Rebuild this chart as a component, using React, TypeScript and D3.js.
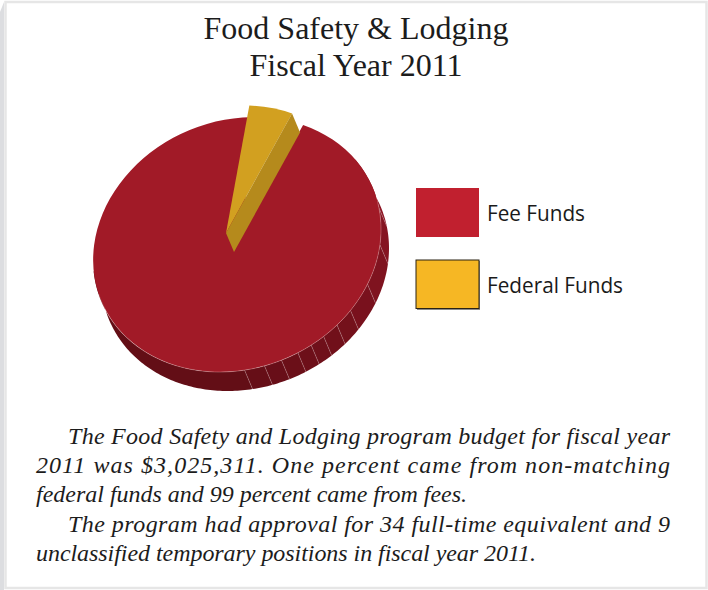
import React from "react";
import * as d3 from "d3";

const titleLines = ["Food Safety & Lodging", "Fiscal Year 2011"];
const categories = ["Fee Funds", "Federal Funds"];
const sliceValues = [95, 5];
const sliceColors = ["#a11a27", "#d2a020"];
const wallColors = ["#a11a27", "#b58a1c"];
const legendColors = ["#c1202f", "#f6b724"];
const legendTextW = [98, 136];
const facetAngles = [-10, 7, 25, 38, 46, 53, 59, 65, 72, 79, 87];
const bodyLines = [
  "The Food Safety and Lodging program budget for fiscal year",
  "2011 was $3,025,311. One percent came from non-matching",
  "federal funds and 99 percent came from fees.",
  "The program had approval for 34 full-time equivalent and 9",
  "unclassified temporary positions in fiscal year 2011.",
];
const bodyX = [68, 36, 36, 68, 36];
const bodyW = [602, 634, 431, 602, 500];
const bodyY = [444, 473, 502, 532, 561];

const cx = 237, cy = 244.5, rx = 144, ry = 127.5, skew = -0.12;
const depthX = 8, depthY = 19;
const explodeX = -11, explodeY = -11.5;
const rad = Math.PI / 180;
const cosSkew = Math.sqrt(1 - skew * skew);

const px = (t: number) => cx + rx * Math.cos(t * rad);
const py = (t: number) => cy + ry * (Math.sin(t * rad) * cosSkew + Math.cos(t * rad) * skew);
const shade = d3.scaleLinear<string>().domain([-30, 95]).range(["#8c1523", "#600d15"]);
const line = d3.line();

function wallPath(a: number, b: number) {
  const ts = d3.range(a, b, 1).concat(b);
  const top = ts.map((t) => [px(t), py(t)] as [number, number]);
  const bottom = ts.map((t) => [px(t) + depthX, py(t) + depthY] as [number, number]).reverse();
  return line(top.concat(bottom)) + "Z";
}

export default function App() {
  const pie = d3.pie<number>().sort(null).startAngle(27.3 * rad).endAngle((27.3 + 360) * rad);
  const arcs = pie(sliceValues);
  const arc = d3.arc<d3.PieArcDatum<number>>().innerRadius(0).outerRadius(1);
  const matrix = `matrix(${rx},${ry * skew},0,${ry * cosSkew},${cx},${cy})`;
  const edges = [-35, ...facetAngles, 175];
  const fedB = arcs[1].endAngle / rad - 90;
  const pt = (t: number, dx: number, dy: number) => [px(t) + dx, py(t) + dy] as [number, number];
  const cutFace = line([
    [cx + explodeX, cy + explodeY],
    pt(fedB - 360, explodeX, explodeY),
    pt(fedB - 360, explodeX + depthX, explodeY + depthY),
    [cx + explodeX + depthX, cy + explodeY + depthY],
  ]) + "Z";
  return (
    <svg width={708} height={590} style={{ position: "fixed", left: 0, top: 0, background: "#fff" }}>
      <rect x={5.5} y={2} width={701} height={586} fill="none" stroke="#e6e6e6" strokeWidth={2.5} />
      <path d="M0,12L4,2V590H0Z" fill="#dcdde0" />
      {edges.slice(0, -1).map((e, i) => (
        <path key={i} d={wallPath(e, edges[i + 1])} fill={shade(e)} />
      ))}
      {facetAngles.map((t) => (
        <line key={t} x1={px(t)} y1={py(t)} x2={px(t) + depthX} y2={py(t) + depthY} stroke="#c9a0a4" strokeOpacity={0.6} strokeWidth={0.6} />
      ))}
      <path d={arc(arcs[0]) as string} transform={matrix} fill={sliceColors[0]} />
      <path
        d={line(d3.range(-12, 165, 1).map((t) => [px(t), py(t)] as [number, number])) as string}
        fill="none" stroke="#e8c4c6" strokeOpacity={0.55} strokeWidth={0.6}
      />
      <g>
        <path d={arc(arcs[1]) as string} transform={`translate(${explodeX},${explodeY}) ${matrix}`} fill={sliceColors[1]} />
        <path d={cutFace} fill={wallColors[1]} />
      </g>
      {titleLines.map((t, i) => (
        <text key={t} x={356} y={39 + i * 37} textAnchor="middle" fontFamily="'Liberation Serif'" fontSize={32} fill="#1c1c1c">{t}</text>
      ))}
      {categories.map((c, i) => (
        <g key={c}>
          {i === 1 && <rect x={417} y={261} width={63} height={49} fill="#8a8a8a" />}
          <rect x={416} y={188 + i * 72} width={63} height={i === 0 ? 49 : 48.5} fill={legendColors[i]}
            stroke={i === 1 ? "#2a2213" : "none"} strokeWidth={i === 1 ? 1 : 0} />
          <text x={487} y={221 + i * 72} textLength={legendTextW[i]} lengthAdjust="spacingAndGlyphs"
            fontFamily="'Open Sans'" fontSize={22} fill="#1a1a1a">{c}</text>
        </g>
      ))}
      {bodyLines.map((t, i) => (
        <text key={i} x={bodyX[i]} y={bodyY[i]} textLength={bodyW[i]} lengthAdjust="spacing"
          fontFamily="'Liberation Serif'" fontStyle="italic" fontSize={24} fill="#1c1c1c">{t}</text>
      ))}
    </svg>
  );
}
